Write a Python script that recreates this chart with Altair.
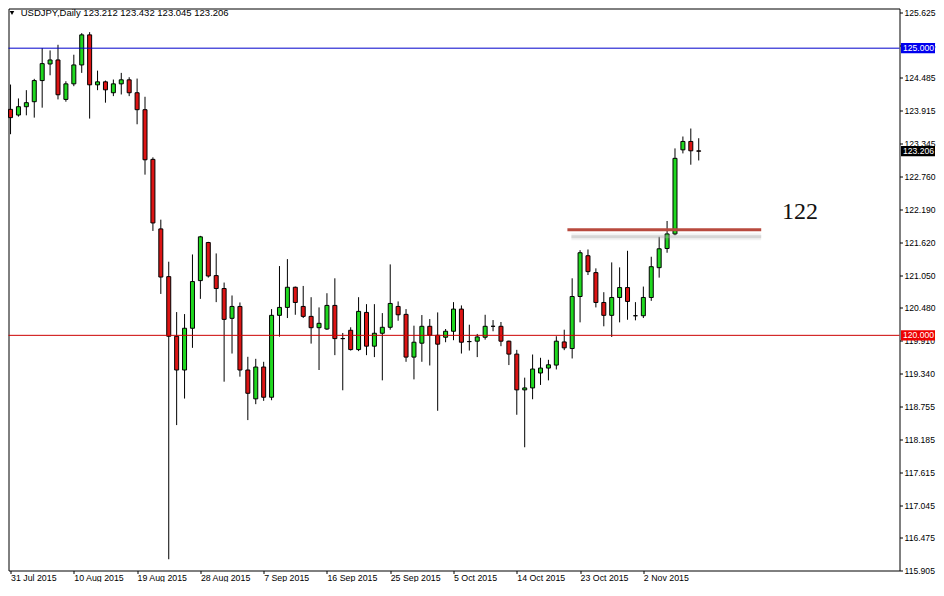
import altair as alt
import pandas as pd

# ---- data ----
opens = [123.935, 123.836, 123.981, 124.068, 124.436, 124.725, 124.795, 124.108, 124.379, 124.708,
         125.232, 124.362, 124.414, 124.224, 124.379, 124.449, 124.224, 123.929, 123.064, 121.853,
         121.022, 119.984, 119.396, 120.123, 120.953, 121.616, 121.040, 120.815, 120.296, 120.503,
         119.396, 118.894, 119.448, 118.922, 120.348, 120.486, 120.837, 120.503, 120.330, 120.133,
         120.110, 120.521, 119.943, 120.088, 119.752, 120.399, 119.811, 120.036, 120.140, 120.503,
         120.365, 119.621, 119.863, 120.157, 120.001, 119.967, 120.071, 120.457, 119.891, 119.898,
         119.967, 120.157, 120.157, 119.898, 119.673, 119.050, 119.084, 119.344, 119.430, 119.482,
         119.885, 119.770, 120.676, 121.386, 121.092, 120.572, 120.348, 120.659, 120.832, 120.341,
         120.341, 120.659, 121.178, 121.512, 121.766, 123.230, 123.376, 123.212]
highs = [124.367, 124.125, 124.269, 124.466, 125.002, 124.961, 125.059, 124.424, 124.886, 125.262,
         125.279, 124.609, 124.436, 124.454, 124.570, 124.494, 124.471, 124.154, 123.099, 122.014,
         121.282, 120.405, 120.370, 121.408, 121.732, 121.628, 121.426, 120.919, 120.694, 120.572,
         119.626, 119.591, 119.539, 120.457, 121.206, 121.327, 120.849, 120.860, 120.664, 120.486,
         120.733, 120.993, 120.041, 120.140, 120.664, 120.543, 120.543, 120.387, 121.235, 120.590,
         120.457, 120.168, 120.353, 120.283, 120.399, 120.110, 120.578, 120.521, 120.185, 120.024,
         120.358, 120.266, 120.232, 119.908, 119.747, 119.263, 119.666, 119.609, 119.574, 119.984,
         120.098, 120.993, 121.483, 121.495, 121.166, 120.751, 121.270, 121.183, 121.472, 120.578,
         120.849, 121.368, 121.715, 121.991, 123.255, 123.462, 123.601, 123.432]
lows = [123.502, 123.808, 123.831, 123.791, 123.964, 124.528, 124.108, 124.068, 124.338, 124.570,
        123.774, 124.269, 124.051, 124.165, 124.194, 124.165, 123.675, 122.798, 121.818, 120.721,
        116.101, 118.437, 118.899, 119.782, 120.635, 121.005, 120.578, 119.193, 119.683, 119.280,
        118.524, 118.801, 118.859, 118.870, 119.977, 120.301, 120.358, 120.301, 119.856, 119.396,
        120.093, 119.655, 119.043, 119.735, 119.725, 119.655, 119.621, 119.216, 120.098, 120.254,
        119.539, 119.233, 119.539, 119.475, 118.686, 119.880, 119.915, 119.683, 119.735, 119.621,
        119.925, 120.071, 119.811, 119.482, 118.617, 118.051, 118.887, 119.136, 119.216, 119.406,
        119.742, 119.597, 120.226, 121.050, 120.486, 120.157, 119.972, 120.226, 120.271, 120.261,
        120.301, 120.600, 121.005, 121.438, 121.742, 123.168, 122.971, 123.045]
closes = [123.791, 123.981, 124.051, 124.436, 124.731, 124.795, 124.189, 124.379, 124.708, 125.232,
          124.362, 124.414, 124.275, 124.379, 124.449, 124.224, 123.929, 123.057, 121.957, 121.015,
          119.984, 119.396, 120.123, 120.936, 121.715, 121.033, 120.815, 120.278, 120.503, 119.396,
          118.991, 119.448, 118.922, 120.348, 120.486, 120.837, 120.572, 120.330, 120.133, 120.209,
          120.521, 119.943, 119.943, 119.752, 120.417, 119.811, 120.036, 120.140, 120.555, 120.358,
          119.621, 119.880, 120.157, 120.001, 119.846, 120.071, 120.457, 119.880, 119.891, 119.972,
          120.157, 120.157, 119.898, 119.673, 119.050, 119.084, 119.413, 119.430, 119.487, 119.898,
          119.782, 120.676, 121.438, 121.109, 120.572, 120.348, 120.659, 120.832, 120.590, 120.341,
          120.659, 121.195, 121.507, 121.766, 123.082, 123.376, 123.213, 123.206]

tick_bars = [0, 8, 16, 24, 32, 40, 48, 56, 64, 72, 80]
tick_dates = ["31 Jul 2015", "10 Aug 2015", "19 Aug 2015", "28 Aug 2015", "7 Sep 2015",
              "16 Sep 2015", "25 Sep 2015", "5 Oct 2015", "14 Oct 2015", "23 Oct 2015", "2 Nov 2015"]
price_ticks = [125.625, 125.055, 124.485, 123.915, 123.345, 122.760, 122.190, 121.620, 121.050,
               120.480, 119.910, 119.340, 118.755, 118.185, 117.615, 117.045, 116.475, 115.905]

level_prices = [125.0, 120.0]
level_colors = ["#0000cc", "#cc0000"]
box_prices = [125.0, 120.0, closes[-1]]
box_colors = ["#0000ee", "#ee0000", "#000000"]

annot_price = 121.84
annot_bars = [70.4, 94.9]
annot_text = "122"
annot_text_bar = 99.8
annot_text_price = 122.15

symbol = "USDJPY,Daily"

GREEN = "#1fd81f"
RED = "#dc1414"

# ---- frames ----
df = pd.DataFrame({"bar": list(range(len(opens))), "open": opens, "high": highs,
                   "low": lows, "close": closes})
df["col"] = [GREEN if c >= o else RED for o, c in zip(opens, closes)]

levels = pd.DataFrame({"price": level_prices, "col": level_colors})
boxes = pd.DataFrame({"price": box_prices, "col": box_colors,
                      "label": [f"{p:.3f}" for p in box_prices]})
ann = pd.DataFrame({"x": [annot_bars[0]], "x2": [annot_bars[1]], "y": [annot_price]})
ann_t = pd.DataFrame({"x": [annot_text_bar], "y": [annot_text_price], "t": [annot_text]})
title_text = symbol + " " + " ".join(f"{v:.3f}" for v in
                                     [opens[-1], highs[-1], lows[-1], closes[-1]])
ttl = pd.DataFrame({"t": [title_text]})

XS = alt.Scale(domain=[0.375, 111.75], nice=False, zero=False)
YS = alt.Scale(domain=[115.905, 125.691], nice=False, zero=False)

label_expr = "[" + ",".join(f"'{d}'" for d in tick_dates) + "][round(datum.value/8)]"

XAX = alt.Axis(values=tick_bars, labelExpr=label_expr, labelAlign="left",
               labelBaseline="top", tickSize=3, labelPadding=0, labelFlush=False,
               labelOverlap=False, labelFontSize=8.8, title=None)
YAX = alt.Axis(orient="right", values=price_ticks, format=".3f", tickSize=3,
               labelPadding=1.5, labelFlush=False, labelOverlap=False, labelFontSize=8.6,
               title=None)


def X(field):
    return alt.X(field, scale=XS, axis=XAX, title=None)


def Y(field):
    return alt.Y(field, scale=YS, axis=YAX, title=None)


wicks = alt.Chart(df).mark_rule(color="black", strokeWidth=1).encode(
    x=X("bar:Q"), y=Y("low:Q"), y2="high:Q")

bodies = alt.Chart(df).mark_bar(size=4, stroke="black", strokeWidth=1).encode(
    x=X("bar:Q"), y=Y("open:Q"), y2="close:Q",
    fill=alt.Fill("col:N", scale=None))

hlines = alt.Chart(levels).mark_rule(strokeWidth=1).encode(
    y=Y("price:Q"), color=alt.Color("col:N", scale=None))

shadow1 = alt.Chart(ann).mark_rule(color="#999999", strokeWidth=7, opacity=0.12,
                                    yOffset=7, xOffset=4).encode(
    x=X("x:Q"), x2="x2:Q", y=Y("y:Q"))
shadow2 = alt.Chart(ann).mark_rule(color="#aaaaaa", strokeWidth=3, opacity=0.4,
                                    yOffset=7, xOffset=4).encode(
    x=X("x:Q"), x2="x2:Q", y=Y("y:Q"))
annline = alt.Chart(ann).mark_rule(color="#b84a3e", strokeWidth=3).encode(
    x=X("x:Q"), x2="x2:Q", y=Y("y:Q"))

anntext = alt.Chart(ann_t).mark_text(font="Liberation Serif", fontSize=24, color="#111111",
                                      align="center", baseline="middle").encode(
    x=X("x:Q"), y=Y("y:Q"), text="t:N")

boxmarks = alt.Chart(boxes).mark_point(shape="M-1,-0.3H1V0.3H-1Z", size=1156, filled=True,
                                       opacity=1, strokeWidth=0).encode(
    x=alt.value(909.5), y=Y("price:Q"), color=alt.Color("col:N", scale=None))
boxtext = alt.Chart(boxes).mark_text(font="Liberation Sans", fontSize=8.6, color="white",
                                     align="center", baseline="middle").encode(
    x=alt.value(910), y=Y("price:Q"), text="label:N")

tri = alt.Chart(ttl).mark_point(shape="triangle-down", filled=True, color="black", size=20,
                                opacity=1).encode(x=alt.value(3.5), y=alt.value(4.5))
ttext = alt.Chart(ttl).mark_text(font="Liberation Sans", fontSize=9.5, color="black",
                                 align="left", baseline="middle").encode(
    x=alt.value(12.2), y=alt.value(4.7), text="t:N")

chart = alt.layer(wicks, bodies, hlines, shadow1, shadow2, annline, anntext,
                  boxmarks, boxtext, tri, ttext).properties(
    width=891, height=562,
    padding={"left": 0.5, "top": 0.5, "right": 36.5, "bottom": 11.5},
    autosize=alt.AutoSizeParams(type="none"),
).configure_view(stroke="black", strokeWidth=1).configure_axis(
    labelFont="Liberation Sans", labelFontSize=9, labelColor="black", tickColor="black",
    grid=False, domain=False, labelOverlap=False)

chart.save("out.html", embed_options={"renderer": "svg", "actions": False})
